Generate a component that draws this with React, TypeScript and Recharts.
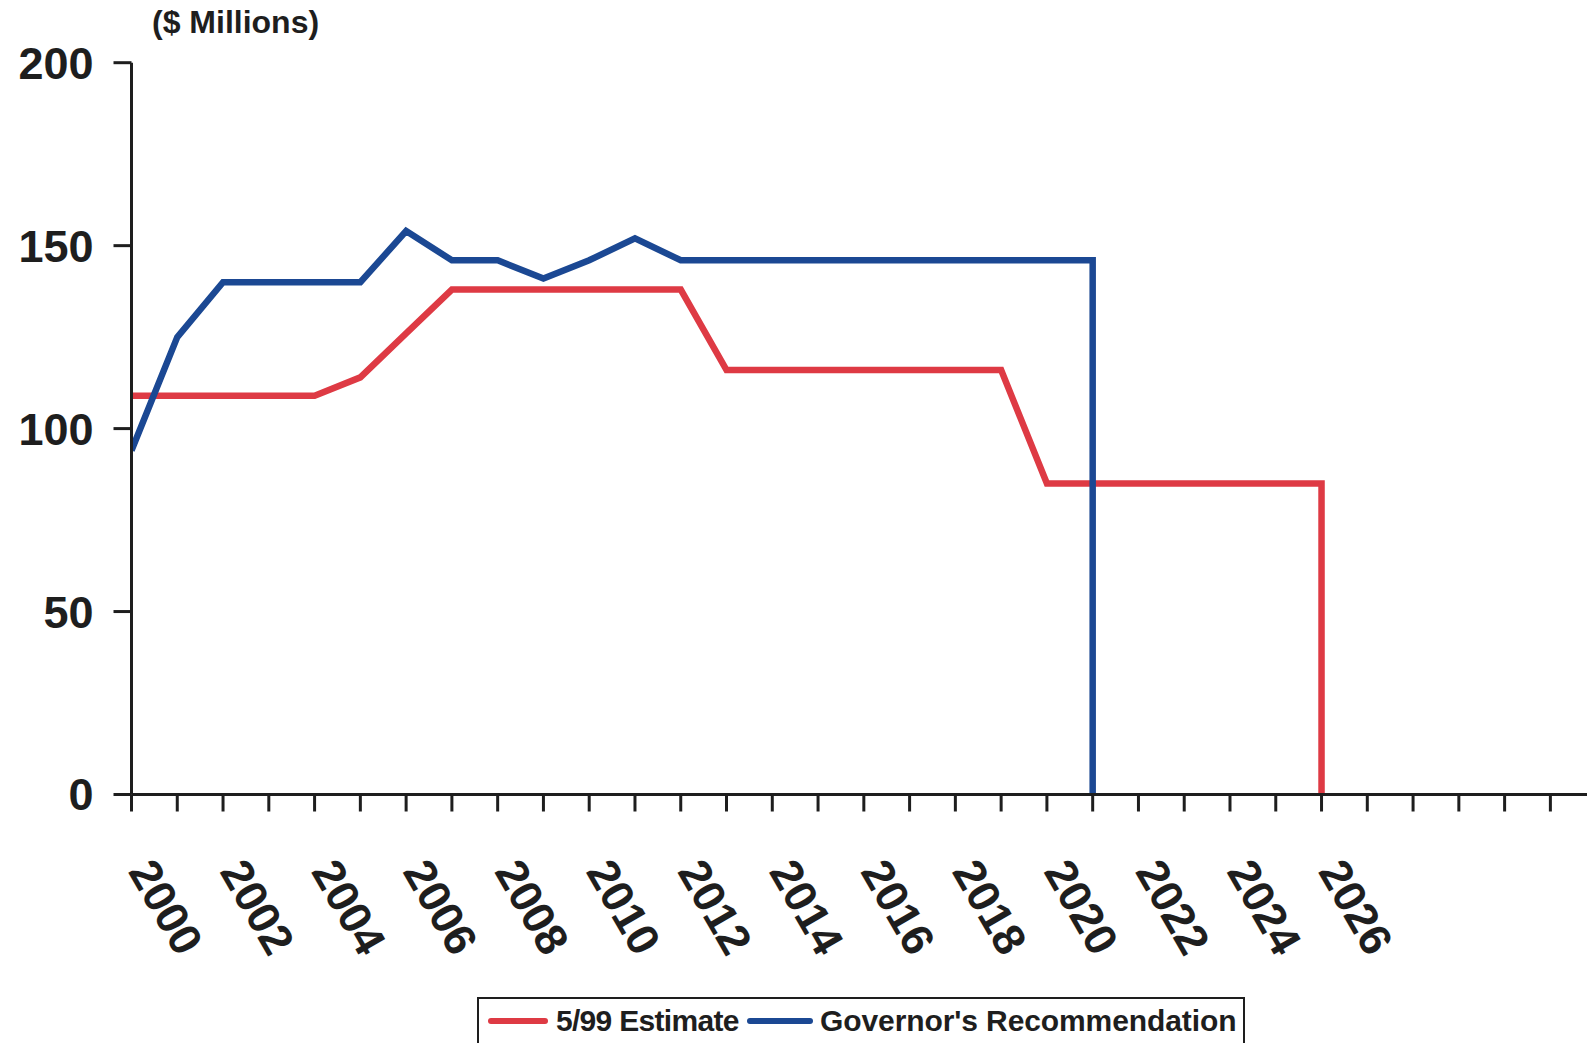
import React from "react";
import { LineChart, Line, XAxis, YAxis } from "recharts";

// ---- data ----
const tickYears = [
  2000, 2001, 2002, 2003, 2004, 2005, 2006, 2007, 2008, 2009, 2010, 2011, 2012, 2013, 2014, 2015,
  2016, 2017, 2018, 2019, 2020, 2021, 2022, 2023, 2024, 2025, 2026, 2027, 2028, 2029, 2030, 2031,
];
const labelYears = [2000, 2002, 2004, 2006, 2008, 2010, 2012, 2014, 2016, 2018, 2020, 2022, 2024, 2026];
const yTicks = [0, 50, 100, 150, 200];

const estimateYears = [
  2000, 2001, 2002, 2003, 2004, 2005, 2006, 2007, 2008, 2009, 2010, 2011, 2012, 2013, 2014, 2015,
  2016, 2017, 2018, 2019, 2020, 2021, 2022, 2023, 2024, 2025, 2026, 2026,
];
const estimateValues = [
  109, 109, 109, 109, 109, 114, 126, 138, 138, 138, 138, 138, 138, 116, 116, 116,
  116, 116, 116, 116, 85, 85, 85, 85, 85, 85, 85, 0,
];

const governorYears = [
  2000, 2001, 2002, 2003, 2004, 2005, 2006, 2007, 2008, 2009, 2010, 2011, 2012, 2013, 2014, 2015,
  2016, 2017, 2018, 2019, 2020, 2021, 2021,
];
const governorValues = [
  94, 125, 140, 140, 140, 140, 154, 146, 146, 141, 146, 152, 146, 146, 146, 146,
  146, 146, 146, 146, 146, 146, 0,
];

const estimateName = "5/99 Estimate";
const governorName = "Governor's Recommendation";
const unitTitle = "($ Millions)";

const estimateData = estimateYears.map((year, i) => ({ year, value: estimateValues[i] }));
const governorData = governorYears.map((year, i) => ({ year, value: governorValues[i] }));

const RED = "#de3a44";
const BLUE = "#1b4893";
const INK = "#1e1e1e";
const FONT = "'Liberation Sans', Arial, Helvetica, sans-serif";

const XTick = (props: any) => {
  const { x, y, payload } = props;
  if (!labelYears.includes(payload.value)) return null;
  const tx = x - 4;
  return (
    <text
      x={tx}
      y={y}
      transform={`rotate(60 ${tx} ${y})`}
      textAnchor="start"
      fontFamily={FONT}
      fontWeight="bold"
      fontSize={45}
      fill={INK}
    >
      {payload.value}
    </text>
  );
};

const legendText: React.CSSProperties = {
  position: "absolute",
  top: 5,
  fontSize: 30,
  fontWeight: "bold",
  lineHeight: "34px",
  color: INK,
  whiteSpace: "nowrap",
};

export default function App() {
  return (
    <div
      style={{
        position: "fixed",
        left: 0,
        top: 0,
        width: 1587,
        height: 1043,
        overflow: "hidden",
        background: "#fff",
        fontFamily: FONT,
      }}
    >
      <div
        style={{
          position: "absolute",
          left: 152,
          top: 4,
          fontSize: 32,
          fontWeight: "bold",
          color: INK,
          lineHeight: "36px",
          whiteSpace: "nowrap",
        }}
      >
        {unitTitle}
      </div>
      <LineChart
        width={1587}
        height={1043}
        margin={{ top: 62.7, right: 0, bottom: 0, left: 0 }}
      >
        <XAxis
          type="number"
          dataKey="year"
          domain={[2000, 2031.8]}
          ticks={tickYears}
          interval={0}
          allowDataOverflow
          height={248.5}
          axisLine={{ stroke: INK, strokeWidth: 3 }}
          tickLine={{ stroke: INK, strokeWidth: 3 }}
          tickSize={17}
          tickMargin={60}
          tick={<XTick />}
        />
        <YAxis
          type="number"
          domain={[0, 200]}
          ticks={yTicks}
          interval={0}
          width={131.5}
          axisLine={{ stroke: INK, strokeWidth: 3 }}
          tickLine={{ stroke: INK, strokeWidth: 3 }}
          tickSize={18}
          tickMargin={20}
          tick={{ fontSize: 45, fontWeight: "bold", fill: INK, fontFamily: FONT }}
        />
        <Line
          data={estimateData}
          dataKey="value"
          name={estimateName}
          type="linear"
          stroke={RED}
          strokeWidth={6.5}
          dot={false}
          activeDot={false}
          isAnimationActive={false}
        />
        <Line
          data={governorData}
          dataKey="value"
          name={governorName}
          type="linear"
          stroke={BLUE}
          strokeWidth={6.5}
          dot={false}
          activeDot={false}
          isAnimationActive={false}
        />
      </LineChart>
      <div
        style={{
          position: "absolute",
          left: 477,
          top: 997,
          width: 768,
          height: 70,
          border: `2px solid ${INK}`,
          boxSizing: "border-box",
        }}
      >
        <div style={{ position: "absolute", left: 9, top: 19, width: 60, height: 6, borderRadius: 3, background: RED }} />
        <span style={{ ...legendText, left: 77, letterSpacing: -0.7 }}>{estimateName}</span>
        <div style={{ position: "absolute", left: 268, top: 19, width: 66, height: 6, borderRadius: 3, background: BLUE }} />
        <span style={{ ...legendText, left: 341, letterSpacing: -0.1 }}>{governorName}</span>
      </div>
    </div>
  );
}
